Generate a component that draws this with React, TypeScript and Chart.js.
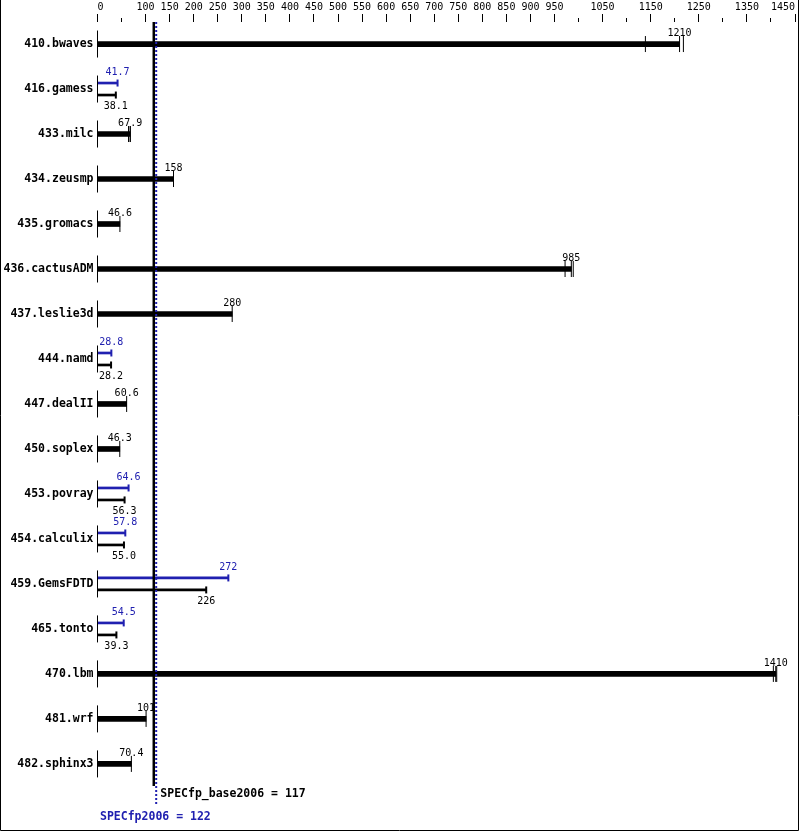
import { useEffect, useRef } from 'react';
import { Chart, registerables } from 'chart.js';

Chart.register(...registerables);

// ---------- data ----------
const BENCHMARKS = [
  '410.bwaves', '416.gamess', '433.milc', '434.zeusmp', '435.gromacs',
  '436.cactusADM', '437.leslie3d', '444.namd', '447.dealII', '450.soplex',
  '453.povray', '454.calculix', '459.GemsFDTD', '465.tonto', '470.lbm',
  '481.wrf', '482.sphinx3',
];
const BASE_VALUES = [1210, 38.1, 67.9, 158, 46.6, 985, 280, 28.2, 60.6, 46.3, 56.3, 55.0, 226, 39.3, 1410, 101, 70.4];
const PEAK_VALUES = [1210, 41.7, 67.9, 158, 46.6, 985, 280, 28.8, 60.6, 46.3, 64.6, 57.8, 272, 54.5, 1410, 101, 70.4];
// individual run results (tick marks) for benchmarks where peak == base
const RUNS = [
  [1139, 1210, 1218], [38.1], [64.5, 67.9, 68.2], [158], [46.6],
  [972, 985, 989], [280], [28.2], [60.6], [46.3],
  [56.3], [55.0], [226], [39.3], [1405, 1410, 1412],
  [101], [70.4],
];
const LABELED_TICKS = [0, 100, 150, 200, 250, 300, 350, 400, 450, 500, 550, 600, 650, 700, 750, 800, 850, 900, 950, 1050, 1150, 1250, 1350, 1450];
const X_MAX = 1450;
const SPECFP_BASE = 117;
const SPECFP_PEAK = 122;

// ---------- style ----------
const BLUE = '#2020b0';
const MONO = '"DejaVu Sans Mono", monospace';
const ROW_OFF = 6 / 45;

const fmt = (v: number) => (v >= 100 ? v.toFixed(0) : v.toFixed(1));

export default function App() {
  const ref = useRef<HTMLCanvasElement | null>(null);

  useEffect(() => {
    const canvas = ref.current;
    if (!canvas) return;
    const n = BENCHMARKS.length;
    const same = (i: number) => PEAK_VALUES[i] === BASE_VALUES[i];
    const idx = BENCHMARKS.map((_, i) => i);

    const singleBars = idx.filter(same).map((i) => ({ x: BASE_VALUES[i], y: i }));
    const peakBars = idx.filter((i) => !same(i)).map((i) => ({ x: PEAK_VALUES[i], y: i - ROW_OFF }));
    const baseBars = idx.filter((i) => !same(i)).map((i) => ({ x: BASE_VALUES[i], y: i + ROW_OFF }));
    const singleCaps = idx.filter(same).flatMap((i) => RUNS[i].map((v) => ({ x: v, y: i })));

    const capStyle = { pointStyle: 'line', rotation: 90, pointBorderWidth: 1 };

    const labelPlugin = {
      id: 'specDecor',
      afterDraw(chart: any) {
        const ctx = chart.ctx;
        const xs = chart.scales.x;
        const ys = chart.scales.y;
        const top = chart.chartArea.top;
        ctx.save();
        // axis tick marks
        ctx.strokeStyle = '#000';
        ctx.lineWidth = 1;
        xs.ticks.forEach((t: any) => {
          const px = Math.floor(xs.getPixelForValue(t.value)) + 0.5;
          const len = LABELED_TICKS.includes(t.value) ? 8 : 4;
          ctx.beginPath();
          ctx.moveTo(px, top - len);
          ctx.lineTo(px, top);
          ctx.stroke();
        });
        // value labels
        ctx.font = `10px ${MONO}`;
        ctx.textAlign = 'center';
        ctx.textBaseline = 'middle';
        chart.data.datasets.forEach((ds: any, di: number) => {
          if (!ds.labelPlacement) return;
          const meta = chart.getDatasetMeta(di);
          ctx.fillStyle = ds.backgroundColor;
          meta.data.forEach((el: any, j: number) => {
            const dy = ds.labelPlacement === 'above' ? -11 : 11;
            ctx.fillText(fmt(ds.data[j].x), el.x, el.y + dy);
          });
        });
        // summary texts
        ctx.font = `bold 11.5px ${MONO}`;
        ctx.textAlign = 'left';
        ctx.fillStyle = '#000';
        ctx.fillText(`SPECfp_base2006 = ${SPECFP_BASE}`, xs.getPixelForValue(SPECFP_BASE) + 6.5, ys.getPixelForValue(n - 1 + 0.67));
        ctx.fillStyle = BLUE;
        ctx.fillText(`SPECfp2006 = ${SPECFP_PEAK}`, xs.getPixelForValue(0) + 2.5, ys.getPixelForValue(n - 1 + 1.18));
        // frame
        ctx.strokeStyle = '#000';
        ctx.beginPath();
        ctx.moveTo(0.5, 0);
        ctx.lineTo(0.5, chart.height - 0.5);
        ctx.lineTo(chart.width - 0.5, chart.height - 0.5);
        ctx.lineTo(chart.width - 0.5, 0);
        ctx.stroke();
        ctx.restore();
      },
    };

    const chart = new Chart(canvas, {
      type: 'bar',
      data: {
        datasets: [
          {
            type: 'scatter', label: 'base line', showLine: true, order: 0, clip: false,
            data: [{ x: SPECFP_BASE, y: -0.49 }, { x: SPECFP_BASE, y: n - 1 + 0.49 }],
            borderColor: '#000', borderWidth: 2.5, pointRadius: 0,
          },
          {
            type: 'scatter', label: 'peak line', showLine: true, order: 0, clip: false,
            data: [{ x: SPECFP_PEAK, y: -0.49 }, { x: SPECFP_PEAK, y: n - 1 + 0.93 }],
            borderColor: BLUE, borderWidth: 2, borderDash: [2, 2], pointRadius: 0,
          },
          {
            type: 'scatter', label: 'axis', order: 1, clip: false,
            data: idx.map((i) => ({ x: 0, y: i })),
            ...capStyle, pointRadius: 13.5, pointBorderColor: '#000',
          },
          {
            type: 'scatter', label: 'runs', order: 1, clip: false,
            data: singleCaps,
            ...capStyle, pointRadius: 8, pointBorderColor: '#000',
          },
          {
            type: 'scatter', label: 'peak caps', order: 1, clip: false,
            data: peakBars,
            ...capStyle, pointRadius: 3.5, pointBorderWidth: 2, pointBorderColor: BLUE,
          },
          {
            type: 'scatter', label: 'base caps', order: 1, clip: false,
            data: baseBars,
            ...capStyle, pointRadius: 3.5, pointBorderWidth: 2, pointBorderColor: '#000',
          },
          {
            type: 'bar', label: 'base = peak', order: 2, clip: false,
            data: singleBars, backgroundColor: '#000', barThickness: 5, grouped: false,
            labelPlacement: 'above',
          } as any,
          {
            type: 'bar', label: 'peak', order: 2, clip: false,
            data: peakBars, backgroundColor: BLUE, barThickness: 2, grouped: false,
            labelPlacement: 'above',
          } as any,
          {
            type: 'bar', label: 'base', order: 2, clip: false,
            data: baseBars, backgroundColor: '#000', barThickness: 2, grouped: false,
            labelPlacement: 'below',
          } as any,
        ],
      },
      options: {
        indexAxis: 'y',
        responsive: false,
        animation: false,
        layout: { autoPadding: false, padding: { top: 0, left: 0, right: 4, bottom: 5 } },
        plugins: { legend: { display: false }, tooltip: { enabled: false } },
        scales: {
          x: {
            type: 'linear', position: 'top', min: 0, max: X_MAX,
            grid: { display: false, drawTicks: false },
            border: { display: false },
            ticks: {
              stepSize: 50, autoSkip: false, maxRotation: 0, padding: 9, color: '#000', align: 'inner',
              font: { family: MONO, size: 10 },
              callback: (v: any) => (LABELED_TICKS.includes(Number(v)) ? String(v) : ''),
            },
            afterFit: (s: any) => {
              s.height = 22;
              s.paddingLeft = 0; s.paddingRight = 0; s.paddingTop = 0; s.paddingBottom = 0;
            },
          },
          y: {
            type: 'linear', reverse: true, min: -0.49, max: n - 1 + 1.38, offset: false,
            grid: { display: false, drawTicks: false },
            border: { display: false },
            afterBuildTicks: (s: any) => { s.ticks = BENCHMARKS.map((_, i) => ({ value: i })); },
            ticks: {
              autoSkip: false, padding: 4, color: '#000',
              font: { family: MONO, size: 11.5, weight: 'bold' },
              callback: (v: any) => BENCHMARKS[Number(v)] ?? '',
            },
            afterFit: (s: any) => {
              s.width = 97.5;
              s.paddingLeft = 0; s.paddingRight = 0; s.paddingTop = 0; s.paddingBottom = 0;
            },
          },
        },
      } as any,
      plugins: [labelPlugin],
    });
    return () => chart.destroy();
  }, []);

  return (
    <div style={{ position: 'absolute', left: 0, top: 0, width: 799, height: 831, background: '#fff' }}>
      <canvas ref={ref} width={799} height={831} style={{ width: 799, height: 831, display: 'block' }} />
    </div>
  );
}
